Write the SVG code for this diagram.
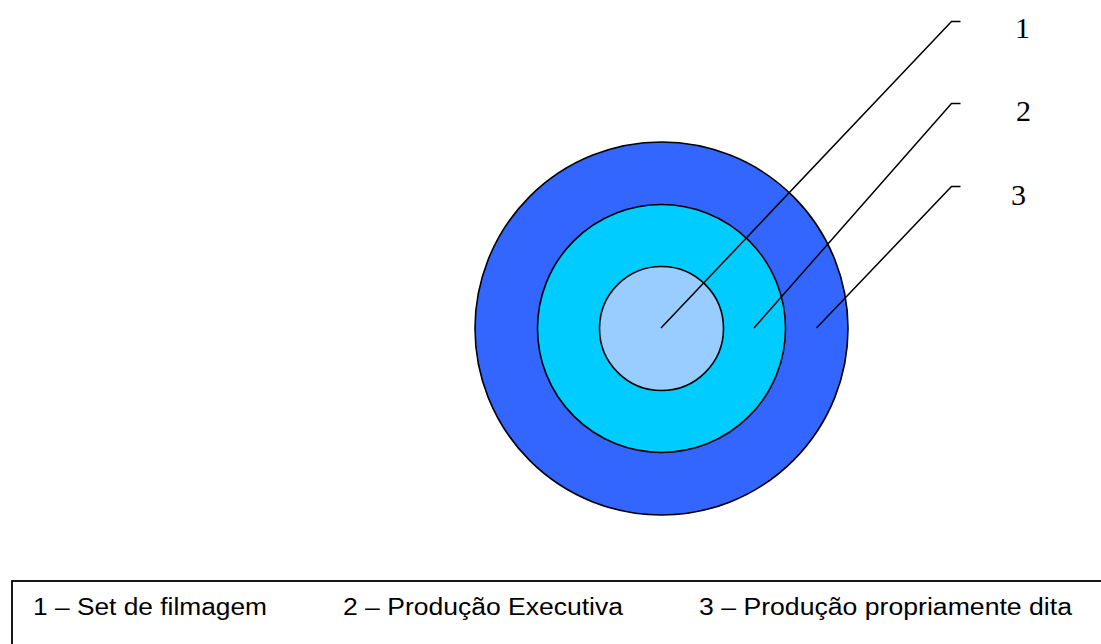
<svg xmlns="http://www.w3.org/2000/svg" width="1101" height="644" viewBox="0 0 1101 644">
<style>
.ring{stroke:#000;stroke-width:1.6}
.lead{fill:none;stroke:#000;stroke-width:1.5}
.num{font-family:"Liberation Serif","Times New Roman",serif;font-size:30px;fill:#000}
.leg{font-family:"Liberation Sans",Arial,sans-serif;font-size:23.5px;fill:#000}
</style>
<rect width="1101" height="644" fill="#fff"/>
<g id="ring3"><circle class="ring" cx="661.5" cy="328.5" r="186.5" fill="#3366FF"/></g>
<g id="ring2"><circle class="ring" cx="661.5" cy="328.5" r="124" fill="#00CCFF"/></g>
<g id="ring1"><circle class="ring" cx="661.5" cy="328.5" r="62" fill="#99CCFF"/></g>
<g id="connectors">
<polyline class="lead" points="661,328 951.5,21.5 960.5,21.5"/>
<polyline class="lead" points="754,328 951.5,103.5 960.5,103.5"/>
<polyline class="lead" points="816.5,328 951.5,186.5 960.5,186.5"/>
</g>
<g id="label1"><text class="num" x="1015" y="38">1</text></g>
<g id="label2"><text class="num" x="1016" y="121">2</text></g>
<g id="label3"><text class="num" x="1011" y="205">3</text></g>
<g id="legend">
<rect x="12" y="581" width="1100" height="100" fill="none" stroke="#000" stroke-width="1.8"/>
<text class="leg" x="33" y="615" textLength="234" lengthAdjust="spacingAndGlyphs">1 – Set de filmagem</text>
<text class="leg" x="343" y="615" textLength="280" lengthAdjust="spacingAndGlyphs">2 – Produção Executiva</text>
<text class="leg" x="699" y="615" textLength="373" lengthAdjust="spacingAndGlyphs">3 – Produção propriamente dita</text>
</g>
</svg>
